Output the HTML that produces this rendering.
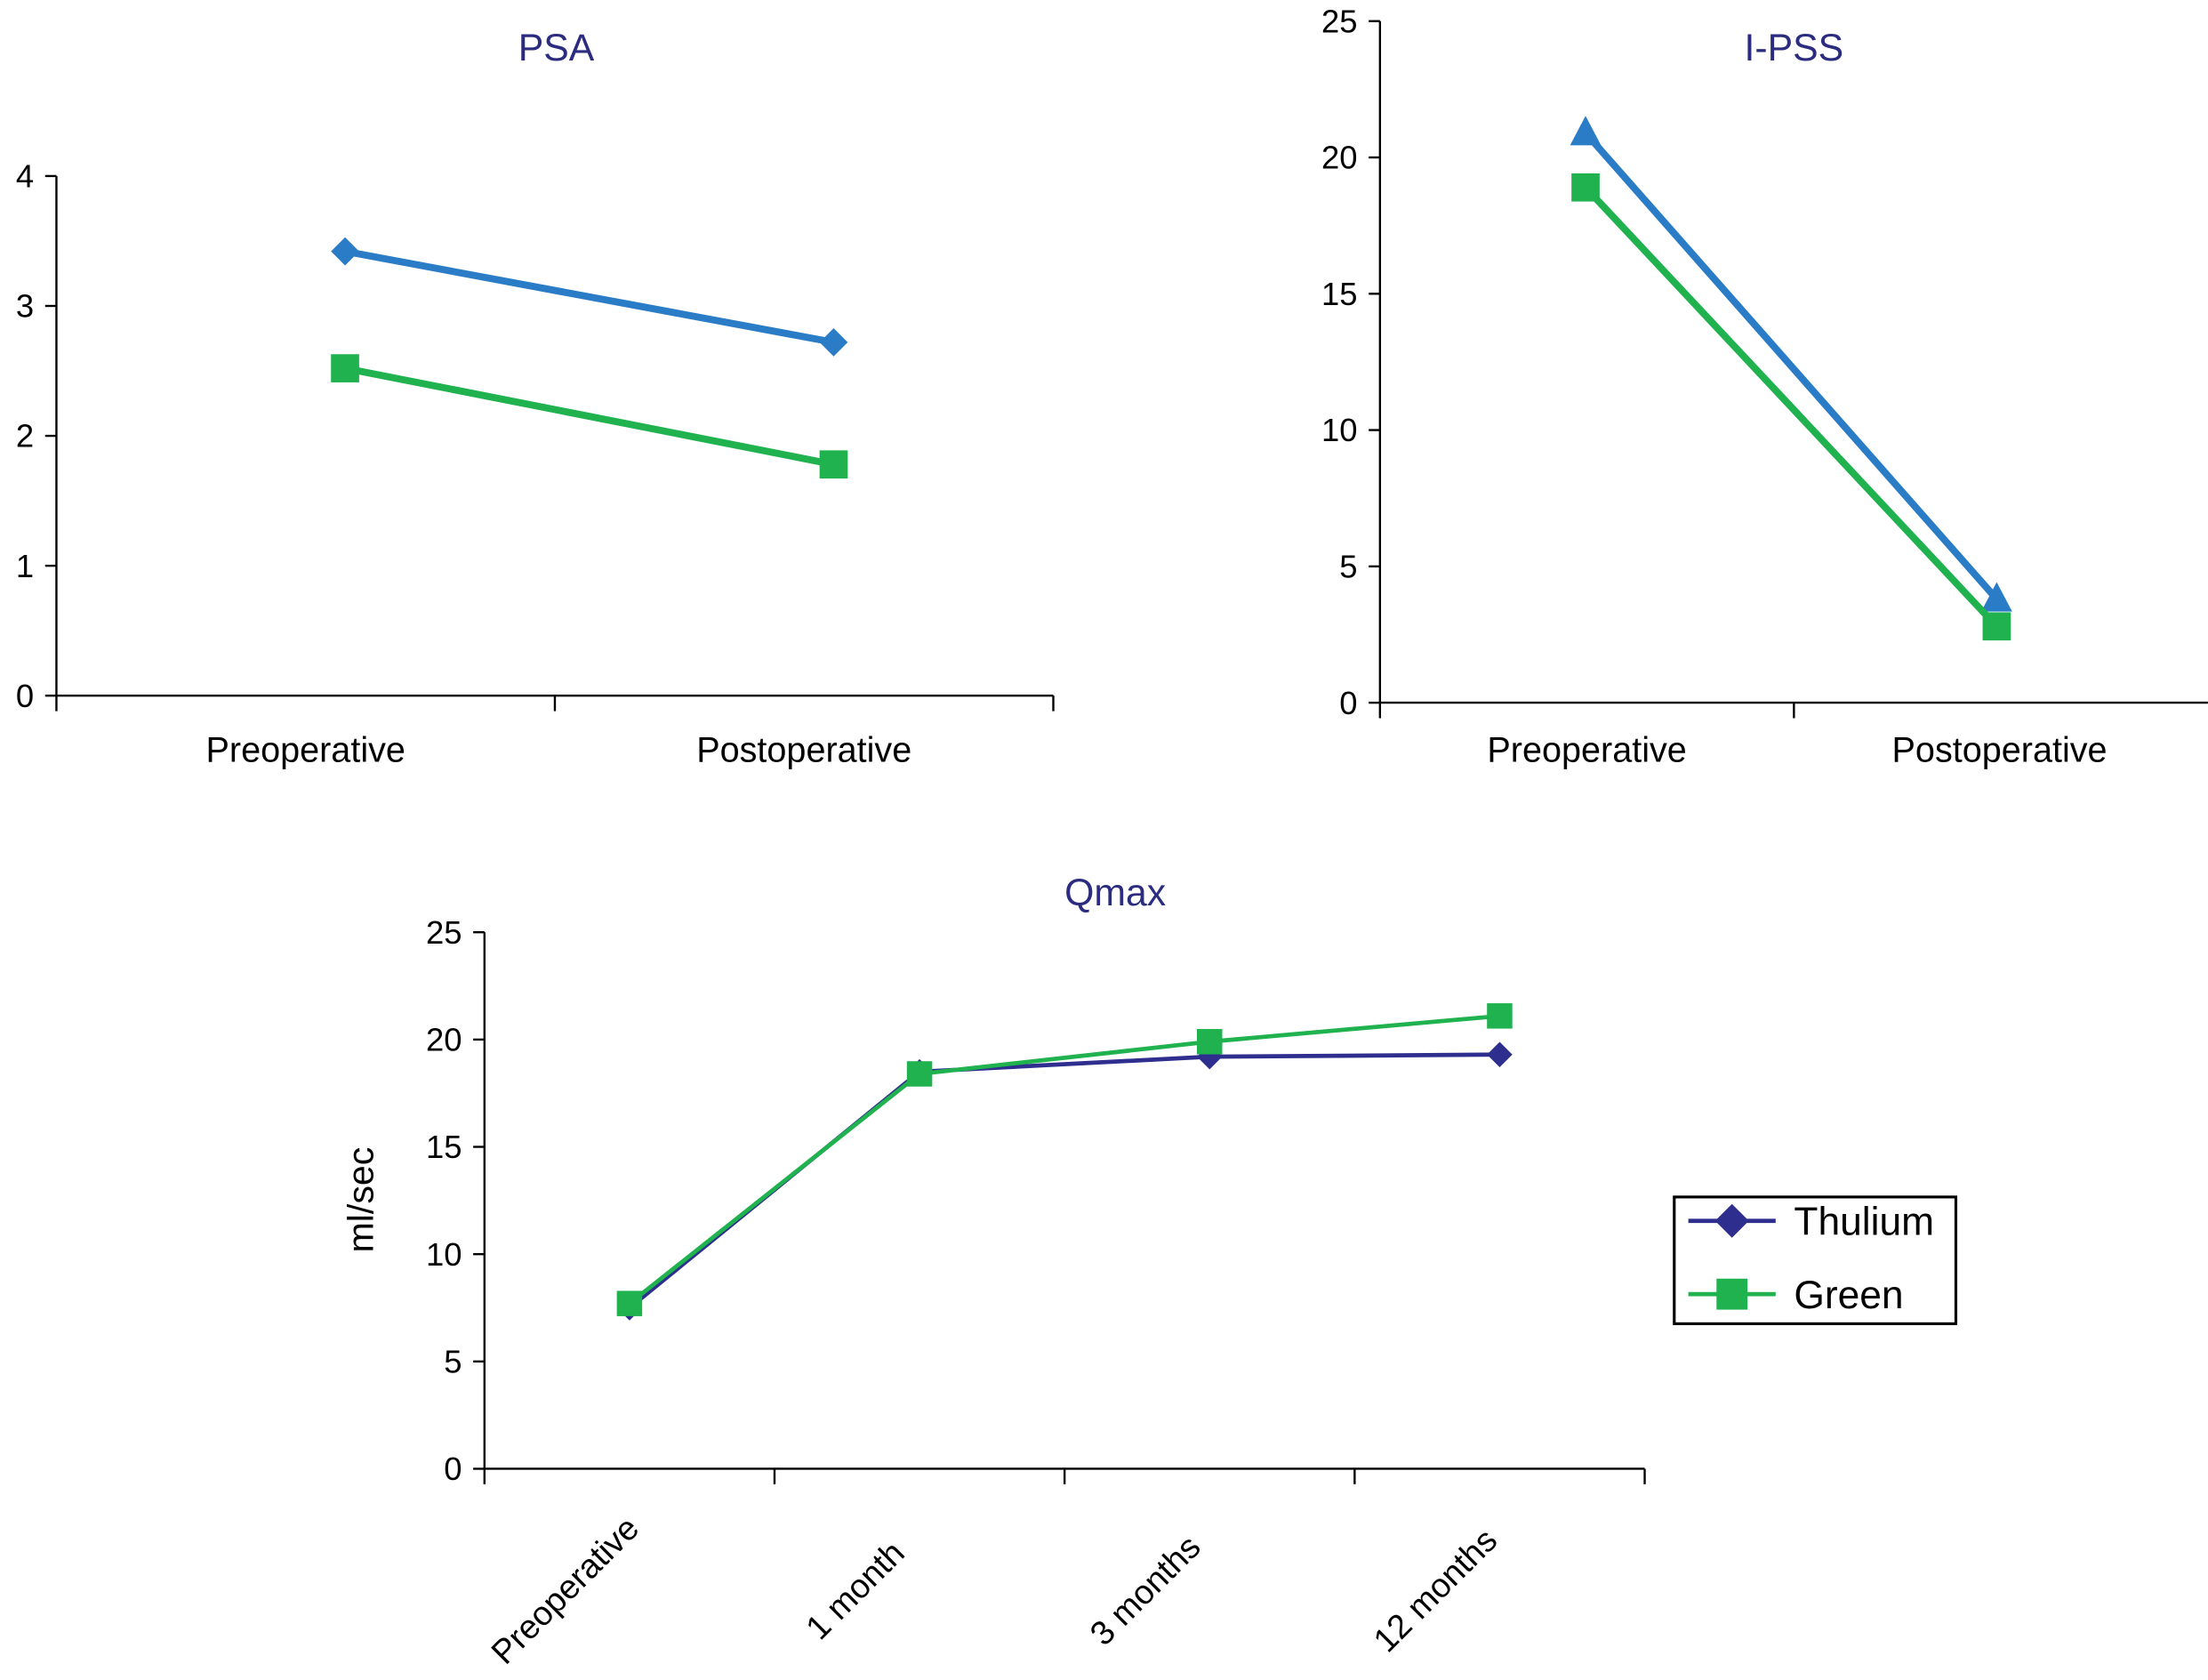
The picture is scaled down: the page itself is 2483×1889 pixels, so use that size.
<!DOCTYPE html>
<html><head><meta charset="utf-8"><style>html,body{margin:0;padding:0;background:#fff}svg{display:block}text{font-family:"Liberation Sans",sans-serif}</style></head>
<body>
<svg id="c" width="2483" height="1889" viewBox="0 0 1568 1193" xmlns="http://www.w3.org/2000/svg"></svg>
<script>
const psaCats=["Preoperative","Postoperative"];
const psaBlue=[3.42,2.72];
const psaGreen=[2.52,1.78];
const psaTicks=[0,1,2,3,4];
const ipssCats=["Preoperative","Postoperative"];
const ipssBlue=[20.9,3.8];
const ipssGreen=[18.9,2.8];
const ipssTicks=[0,5,10,15,20,25];
const qCats=["Preoperative","1 month","3 months","12 months"];
const qThulium=[7.5,18.5,19.2,19.3];
const qGreen=[7.7,18.4,19.9,21.1];
const qTicks=[0,5,10,15,20,25];
const legendLabels=["Thulium","Green"];

const svg=document.getElementById('c');const NS='http://www.w3.org/2000/svg';
function mk(t,a,txt){const e=document.createElementNS(NS,t);for(const k in a)e.setAttribute(k,a[k]);if(txt!==undefined)e.textContent=txt;svg.appendChild(e);return e;}
const BLUE='#2a7cc6',GREEN='#1fb24e',NAVY='#2e2e8e',TITLE='#2b2b80';

function marker(shape,x,y,col,s){let e;
 if(shape==='diamond')e=mk('polygon',{points:`${x},${y-s} ${x+s},${y} ${x},${y+s} ${x-s},${y}`,fill:col});
 else if(shape==='square')e=mk('rect',{x:x-s,y:y-s,width:2*s,height:2*s,fill:col});
 else e=mk('polygon',{points:`${x},${y-s*1.1} ${x+s},${y+s*0.8} ${x-s},${y+s*0.8}`,fill:col});
 return e;}

function series(vals,xf,yf,col,shape,s,w,name){
 const pts=vals.map((v,i)=>xf(i)+','+yf(v)).join(' ');
 const l=mk('polyline',{points:pts,fill:'none',stroke:col,'stroke-width':w});
 
 
 vals.forEach((v,i)=>{const m=marker(shape,xf(i),yf(v),col,s);
  
  });}

function axes(o){
 const yf=v=>o.y0-(v-o.min)/(o.max-o.min)*(o.y0-o.yTop);
 let e=mk('line',{x1:o.ax,y1:o.yTop,x2:o.ax,y2:o.y0,stroke:'#000','stroke-width':1.5});
 
 e=mk('line',{x1:o.ax,y1:o.y0,x2:o.xEnd,y2:o.y0,stroke:'#000','stroke-width':1.5});
 
 o.ticks.forEach(t=>{const y=yf(t);mk('line',{x1:o.ax-8,y1:y,x2:o.ax,y2:y,stroke:'#000','stroke-width':1.5});
  const tx=mk('text',{x:o.ax-16,y:y+8,'text-anchor':'end','font-size':23},String(t));
  });
 o.xt.forEach(x=>mk('line',{x1:x,y1:o.y0,x2:x,y2:o.y0+11,stroke:'#000','stroke-width':1.5}));
 return yf;}

// PSA
let yP=axes({name:'psa',ax:40,y0:494,yTop:125,min:0,max:4,ticks:psaTicks,xEnd:748,xt:[40,394,748]});
let xP=i=>245+i*347;
psaCats.forEach((c,i)=>{const t=mk('text',{x:217+i*354,y:541,'text-anchor':'middle','font-size':25},c);});
series(psaBlue,xP,yP,BLUE,'diamond',10,5,'psa-blue');
series(psaGreen,xP,yP,GREEN,'square',10,5,'psa-green');
let t=mk('text',{x:395,y:43,'text-anchor':'middle','font-size':27,fill:TITLE},'PSA');

// I-PSS
let yI=axes({name:'ipss',ax:980,y0:499,yTop:15,min:0,max:25,ticks:ipssTicks,xEnd:1568,xt:[980,1274]});
let xI=i=>1126+i*292;
ipssCats.forEach((c,i)=>{const t=mk('text',{x:1127+i*293,y:541,'text-anchor':'middle','font-size':25},c);});
series(ipssBlue,xI,yI,BLUE,'triangle',11,5,'ipss-blue');
series(ipssGreen,xI,yI,GREEN,'square',10,5,'ipss-green');
t=mk('text',{x:1274,y:43,'text-anchor':'middle','font-size':27,fill:TITLE},'I-PSS');

// Qmax
let yQ=axes({name:'qmax',ax:344,y0:1043,yTop:662,min:0,max:25,ticks:qTicks,xEnd:1168,xt:[344,550,756,962,1168]});
let xQ=i=>447+i*206;
qCats.forEach((c,i)=>{const x=xQ(i)-40,y=1135;const t=mk('text',{x:x,y:y,'text-anchor':'middle','font-size':24,transform:`rotate(-45 ${x} ${y})`},c);});
series(qThulium,xQ,yQ,NAVY,'diamond',9,3,'qmax-thulium');
series(qGreen,xQ,yQ,GREEN,'square',9,3,'qmax-green');
t=mk('text',{x:792,y:643,'text-anchor':'middle','font-size':27,fill:TITLE},'Qmax');
t=mk('text',{x:265,y:852,'text-anchor':'middle','font-size':26,transform:'rotate(-90 265 852)'},'ml/sec');

// legend
let lg=mk('rect',{x:1189,y:850,width:200,height:90,fill:'#fff',stroke:'#000','stroke-width':2});

[[NAVY,'diamond'],[GREEN,'square']].forEach((s,i)=>{const y=867+i*52;
 mk('line',{x1:1199,y1:y,x2:1261,y2:y,stroke:s[0],'stroke-width':3});
 marker(s[1],1230,y,s[0],s[1]==='diamond'?12:11);
 const tx=mk('text',{x:1274,y:y+10,'font-size':28},legendLabels[i]);
 });
</script>
</body></html>
